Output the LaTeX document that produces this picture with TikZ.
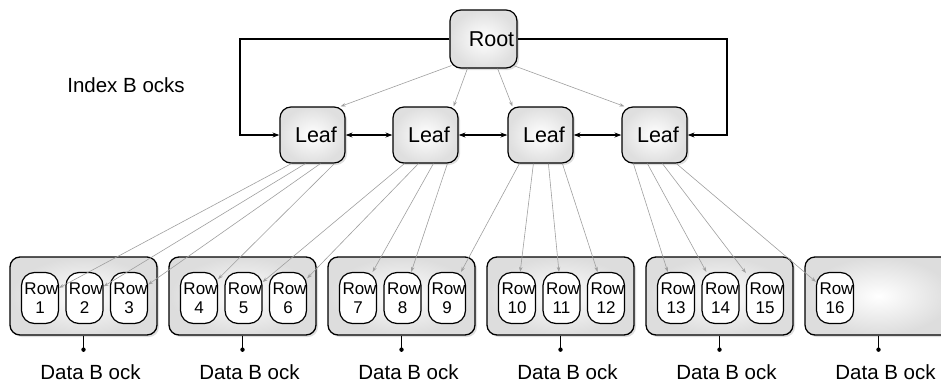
\documentclass[tikz,border=0pt]{standalone}
\usepackage{fontspec}
\setmainfont{Liberation Sans}
\usetikzlibrary{arrows.meta,calc,shadows}
\begin{document}
\begin{tikzpicture}[x=1pt,y=-1pt,
  shadowed/.style={drop shadow={shadow xshift=2pt,shadow yshift=-2pt,opacity=0.25,fill=gray}},
  idx/.style={draw,line width=1.2pt,rounded corners=11pt,inner color=white,outer color=gray!25,
    minimum width=65pt,minimum height=56pt,inner sep=0pt,font=\fontsize{21.5}{24}\selectfont,shadowed},
  blockbox/.style={draw,line width=1.3pt,rounded corners=10pt,inner color=white,outer color=gray!27,
    minimum width=147pt,minimum height=78pt,shadowed},
  rowbox/.style={draw,line width=1.2pt,rounded corners=13pt,fill=white,minimum width=37pt,
    minimum height=51pt,inner sep=0pt,align=center,font=\fontsize{17}{19}\selectfont},
  ptr/.style={draw=gray!75,line width=0.6pt,-{Stealth[length=5pt,width=3.5pt]}},
  link/.style={line width=1.2pt,-{Stealth[length=7pt,width=5pt]}},
  duallink/.style={line width=1.2pt,{Stealth[length=7pt,width=5pt]}-{Stealth[length=7pt,width=5pt]}},
  caption/.style={font=\fontsize{20.5}{24}\selectfont,inner sep=0pt}]
\useasboundingbox (0,0) rectangle (941,383);
\clip (0,0) rectangle (941,383);

% data blocks
\foreach \i in {1,...,6}{
  \pgfmathsetmacro\cx{83.5+159*(\i-1)}
  \node[blockbox] (b\i) at (\cx,296) {};
  \draw[line width=1.1pt] (b\i.south) -- ++(0,14) coordinate (d\i);
  \fill (d\i) circle (2.2pt);
  \node[caption] (t\i) at (\cx+7,372) {Data B ock};
}
% rows
\foreach \k in {1,...,16}{
  \pgfmathtruncatemacro\bl{int((\k-1)/3)}
  \pgfmathtruncatemacro\ps{mod(\k-1,3)}
  \pgfmathsetmacro\rx{40+159*\bl+44.5*\ps}
  \node[rowbox] (r\k) at (\rx,298) {\hspace*{3pt}Row\\\k};
}

% index nodes
\node[idx,minimum width=67pt,minimum height=58pt] (root) at (483.5,39) {\hspace*{16pt}Root};
\node[idx] (leaf1) at (312.5,135) {\hspace*{7pt}Leaf};
\node[idx] (leaf2) at (425.5,135) {\hspace*{7pt}Leaf};
\node[idx] (leaf3) at (540.5,135) {\hspace*{7pt}Leaf};
\node[idx] (leaf4) at (654.5,135) {\hspace*{7pt}Leaf};

\node[caption] (ilabel) at (126,85) {Index B ocks};

% root to leaves
\draw[ptr] ($(root.south west)+(2,-3)$) -- ($(leaf1.north east)+(-5,0)$);
\draw[ptr] ($(root.south west)+(18,0)$) -- ($(leaf2.north east)+(-5,0)$);
\draw[ptr] ($(root.south east)+(-20,0)$) -- ($(leaf3.north west)+(5,0)$);
\draw[ptr] ($(root.south east)+(-4,-3)$) -- ($(leaf4.north west)+(3,0)$);

% outer loop
\coordinate (lcorner) at (240,135);
\coordinate (rcorner) at (727,135);
\draw[link] (root.west) -| (lcorner) -- (leaf1.west);
\draw[link] (root.east) -| (rcorner) -- (leaf4.east);

% sibling links
\draw[duallink] (leaf1.east) -- (leaf2.west);
\draw[duallink] (leaf2.east) -- (leaf3.west);
\draw[duallink] (leaf3.east) -- (leaf4.west);

% leaves to rows
\foreach \j in {1,...,4}{
  \foreach \m [count=\c] in {12,26,41,55}{
    \pgfmathtruncatemacro\rr{4*(\j-1)+\c}
    \draw[ptr] ($(leaf\j.south west)+(\m,0)$) -- (r\rr);
  }
}
\end{tikzpicture}
\end{document}
